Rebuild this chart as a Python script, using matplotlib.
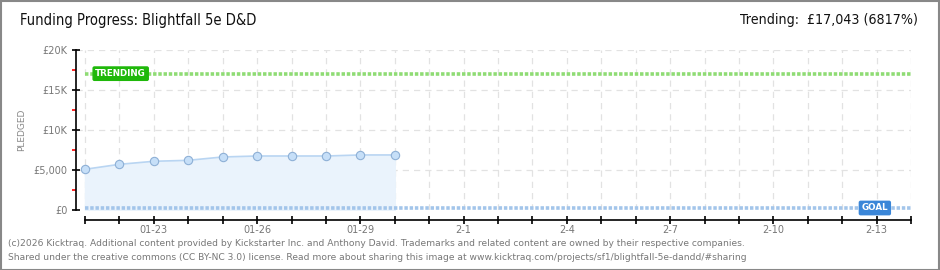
import matplotlib.pyplot as plt
from matplotlib.patches import Rectangle

# data (GBP)
days = ['01-21', '01-22', '01-23', '01-24', '01-25', '01-26', '01-27', '01-28', '01-29', '01-30']
pledged = [5090, 5710, 6090, 6210, 6630, 6750, 6750, 6750, 6880, 6880]
tick_labels = ['', '', '01-23', '', '', '01-26', '', '', '01-29', '', '', '2-1', '', '', '2-4',
               '', '', '2-7', '', '', '2-10', '', '', '2-13', '']
trending = 17043
goal = 250
n_days = len(tick_labels)

W, H = 940, 270
fig = plt.figure(figsize=(W / 100, H / 100), dpi=100)
fig.patch.set_facecolor('white')

# outer frame
fig.add_artist(Rectangle((0.5 / W, 0.5 / H), 1 - 1.5 / W, 1 - 1.5 / H, transform=fig.transFigure,
                         fill=False, edgecolor='#888888', linewidth=1.5))

# axes: x 76..911 px, y 50..210 px
ax = fig.add_axes([76 / W, (H - 210) / H, (911 - 76) / W, 160 / H])
ppd = (911 - 85) / (n_days - 1)
ax.set_xlim(-9 / ppd, n_days - 1)
ax.set_ylim(0, 20000)

x = list(range(len(pledged)))
ax.fill_between(x, pledged, 0, color='#eaf3fc', zorder=1)
ax.plot(x, pledged, color='#b9d5f2', linewidth=1.2, zorder=3)
ax.plot(x, pledged, 'o', markersize=6, markerfacecolor='#c6dff8', markeredgecolor='#8eb0d6',
        markeredgewidth=0.8, zorder=4)

# trending and goal lines
ax.plot([0, n_days - 1], [trending, trending], color='#8fdc74', linewidth=2.6,
        linestyle=(0, (0.95, 0.5)), zorder=2, solid_capstyle='butt')
ax.plot([0, n_days - 1], [goal, goal], color='#a3c5ea', linewidth=2.6,
        linestyle=(0, (0.95, 0.5)), zorder=2, solid_capstyle='butt')

ax.text(0.3, trending, 'TRENDING', color='white', fontsize=6.3, fontweight='bold',
        va='center', ha='left', zorder=5,
        bbox=dict(boxstyle='round,pad=0.25,rounding_size=0.15', facecolor='#1fb80a', edgecolor='#1fb80a'))
ax.text(23.0 - 0.05, goal, 'GOAL', color='white', fontsize=6.3, fontweight='bold',
        va='center', ha='center', zorder=5,
        bbox=dict(boxstyle='round,pad=0.25,rounding_size=0.15', facecolor='#3a86d8', edgecolor='#3a86d8'))

# grid
for d in range(n_days):
    ax.axvline(d, color='#e2e2e2', linewidth=0.9, linestyle=(0, (5, 4)), zorder=0)
for v in [5000, 10000, 15000, 20000]:
    ax.axhline(v, color='#e2e2e2', linewidth=0.9, linestyle=(0, (5, 4)), zorder=0)

# spines
for s in ['top', 'right']:
    ax.spines[s].set_visible(False)
ax.spines['left'].set_color('black')
ax.spines['left'].set_linewidth(1.2)
ax.spines['bottom'].set_position(('outward', 7.2))
ax.spines['bottom'].set_bounds(0, n_days - 1)
ax.spines['bottom'].set_linewidth(1.2)

ax.set_yticks([0, 5000, 10000, 15000, 20000])
ax.set_yticklabels(['£0', '£5,000', '£10K', '£15K', '£20K'])
ax.set_yticks([2500, 7500, 12500, 17500], minor=True)
ax.tick_params(axis='y', which='major', direction='inout', length=6, width=1.2,
               labelsize=7, labelcolor='#777777', pad=3)
ax.tick_params(axis='y', which='minor', direction='out', length=3, width=1.2, color='#ff0000')

ax.set_xticks(range(n_days))
ax.set_xticklabels(tick_labels)
ax.tick_params(axis='x', direction='inout', length=6, width=1.2, labelsize=7,
               labelcolor='#777777', pad=0.5)

fig.text(22 / W, 1 - 130 / H, 'PLEDGED', rotation=90, color='#888888', fontsize=6.5,
         ha='center', va='center')

# titles
fig.text(20 / W, 1 - 20 / H, 'Funding Progress: Blightfall 5e D&D', fontsize=10.5,
         fontstretch='condensed', color='#111111', ha='left', va='center')
fig.text(918 / W, 1 - 20 / H, 'Trending:  £17,043 (6817%)', fontsize=10.2,
         fontstretch='condensed', color='#111111', ha='right', va='center')

# footer
fig.text(8 / W, 1 - 243 / H,
         '(c)2026 Kicktraq. Additional content provided by Kickstarter Inc. and Anthony David. '
         'Trademarks and related content are owned by their respective companies.',
         fontsize=6.62, color='#777777', ha='left', va='center')
fig.text(8 / W, 1 - 257 / H,
         'Shared under the creative commons (CC BY-NC 3.0) license. Read more about sharing '
         'this image at www.kicktraq.com/projects/sf1/blightfall-5e-dandd/#sharing',
         fontsize=6.62, color='#777777', ha='left', va='center')

fig.savefig('out.png', dpi=100)
